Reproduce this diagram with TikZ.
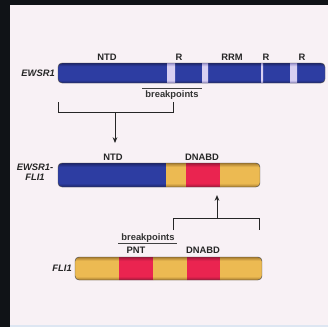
\documentclass[tikz,border=0pt]{standalone}
\usepackage{fontspec}
\setmainfont{Liberation Sans}
\usetikzlibrary{arrows.meta}

\definecolor{frameblk}{HTML}{101317}
\definecolor{panelbg}{HTML}{F8F1F5}
\definecolor{stripbg}{HTML}{DDE6F2}
\definecolor{ewsblue}{HTML}{2D3DA2}
\definecolor{ewsdark}{HTML}{1C2468}
\definecolor{gaplight}{HTML}{D8D0F2}
\definecolor{gapdark}{HTML}{9890CC}
\definecolor{fliyel}{HTML}{ECBA52}
\definecolor{flidark}{HTML}{A47A2E}
\definecolor{flired}{HTML}{EA2450}
\definecolor{reddark}{HTML}{A01638}
\colorlet{tubemid}{ewsblue}
\colorlet{tubeedge}{ewsdark}

% tube look: dark rims, flat middle
\pgfdeclareverticalshading[tubemid,tubeedge]{tube}{100bp}{color(0bp)=(tubeedge); color(25bp)=(tubeedge); color(33bp)=(tubemid); color(67bp)=(tubemid); color(75bp)=(tubeedge); color(100bp)=(tubeedge)}

\tikzstyle{blueseg} = [shading=tube, /utils/exec={\colorlet{tubemid}{ewsblue}\colorlet{tubeedge}{ewsdark}}]
\tikzstyle{gapseg} = [shading=tube, /utils/exec={\colorlet{tubemid}{gaplight}\colorlet{tubeedge}{gapdark}}]
\tikzstyle{yelseg} = [shading=tube, /utils/exec={\colorlet{tubemid}{fliyel}\colorlet{tubeedge}{flidark}}]
\tikzstyle{redseg} = [shading=tube, /utils/exec={\colorlet{tubemid}{flired}\colorlet{tubeedge}{reddark}}]
\tikzstyle{baredge} = [draw=black!70, line width=0.4pt, rounded corners=3.5pt]
\tikzstyle{domlbl} = [font=\bfseries\fontsize{8}{9}\selectfont, text=black!85, inner sep=0pt]
\tikzstyle{gene} = [font=\bfseries\itshape\fontsize{8}{9}\selectfont, text=black!85, inner sep=0pt, align=center]
\tikzstyle{brk} = [font=\bfseries\fontsize{8}{9}\selectfont, text=black!80, inner sep=0pt]
\tikzstyle{link} = [line width=0.8pt, draw=black!85]
\tikzstyle{arrow} = [link, -{Stealth[length=5pt, width=4pt]}]

\begin{document}
\begin{tikzpicture}[x=0.03cm, y=-0.03cm]
\useasboundingbox (0,0) rectangle (328,327);

% Frame and panel
\fill[frameblk] (0,0) rectangle (328,327);
\fill[panelbg] (10,5) rectangle (328,325);
\fill[stripbg] (10,325) rectangle (328,327);

% EWSR1 bar
\begin{scope}
\clip[rounded corners=3.5pt] (58,63) rectangle (325,83);
\shade[blueseg] (58,63) rectangle (325,83);
\shade[gapseg] (167,63) rectangle (175,83);
\shade[gapseg] (202,63) rectangle (208,83);
\shade[gapseg] (261,63) rectangle (263,83);
\shade[gapseg] (290,63) rectangle (297,83);
\end{scope}
\draw[baredge] (58,63) rectangle (325,83);

% EWSR1-FLI1 bar
\begin{scope}
\clip[rounded corners=3.5pt] (58,163) rectangle (260,187);
\shade[blueseg] (58,163) rectangle (166,187);
\shade[yelseg] (166,163) rectangle (186,187);
\shade[redseg] (186,163) rectangle (220,187);
\shade[yelseg] (220,163) rectangle (260,187);
\end{scope}
\draw[baredge] (58,163) rectangle (260,187);

% FLI1 bar
\begin{scope}
\clip[rounded corners=3.5pt] (75,257) rectangle (262,280);
\shade[yelseg] (75,257) rectangle (119,280);
\shade[redseg] (119,257) rectangle (153,280);
\shade[yelseg] (153,257) rectangle (187,280);
\shade[redseg] (187,257) rectangle (220,280);
\shade[yelseg] (220,257) rectangle (262,280);
\end{scope}
\draw[baredge] (75,257) rectangle (262,280);

% Gene names
\node (ewsr) [gene, anchor=east] at (55,73) {EWSR1};
\node (fusion) [gene] at (35,172) {EWSR1-\\FLI1};
\node (fli) [gene, anchor=east] at (72,268) {FLI1};

% Domain labels
\node (ntdA) [domlbl] at (107,57) {NTD};
\node (rA) [domlbl] at (179,57) {R};
\node (rrm) [domlbl] at (232,57) {RRM};
\node (rB) [domlbl] at (266,57) {R};
\node (rC) [domlbl] at (302,57) {R};
\node (ntdB) [domlbl] at (113,157) {NTD};
\node (dnabdA) [domlbl] at (202,157) {DNABD};
\node (pnt) [domlbl] at (136,250) {PNT};
\node (dnabdB) [domlbl] at (203,250) {DNABD};

% Breakpoints
\node (brkA) [brk] at (172,95) {breakpoints};
\draw[black!75, line width=0.6pt] (142,88) -- (202,88);
\node (brkB) [brk] at (148,238) {breakpoints};
\draw[black!75, line width=0.6pt] (118,243) -- (177,243);

% Brackets and arrows
\coordinate (topL) at (58,102);
\coordinate (topR) at (173,102);
\coordinate (topM) at (115,112);
\coordinate (topTip) at (115,143);
\draw[link] (topL) |- (topR |- topM) -- (topR);
\draw[arrow] (topM) -- (topTip);

\coordinate (botL) at (173,230);
\coordinate (botR) at (259,230);
\coordinate (botM) at (217,218);
\coordinate (botTip) at (217,195);
\draw[link] (botL) |- (botR |- botM) -- (botR);
\draw[arrow] (botM) -- (botTip);

\end{tikzpicture}
\end{document}
